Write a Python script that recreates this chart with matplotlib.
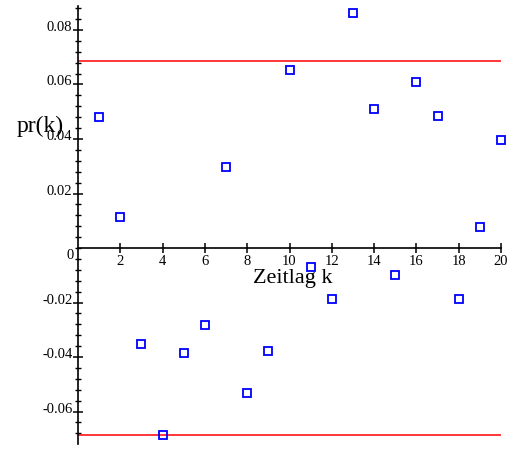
"""
Autokorrelation pr(k) der Residuen mit Konfidenzgrenzen.
"""

import numpy as np
import matplotlib
matplotlib.use('Agg')
import matplotlib.pyplot as plt
from matplotlib.ticker import MultipleLocator, FixedLocator

# Zeitlag k und geschaetzte Autokorrelation
lags = list(range(1, 21))
pr_k = [0.0481, 0.0115, -0.0353, -0.0687, -0.0384, -0.0281, 0.0297, -0.0531,
        -0.0376, 0.0653, -0.0068, -0.0186, 0.0863, 0.0509, -0.0100, 0.0609,
        0.0486, -0.0186, 0.0078, 0.0397]

# Konfidenzgrenzen
bound = 0.0685

x_ticks = [2, 4, 6, 8, 10, 12, 14, 16, 18, 20]
y_ticks = [-0.06, -0.04, -0.02, 0.02, 0.04, 0.06, 0.08]

plt.rcParams['font.family'] = ['Liberation Serif', 'DejaVu Serif']

fig = plt.figure(figsize=(5.12, 4.6), dpi=100)
ax = fig.add_axes([78 / 512, 15 / 460, 423 / 512, 438 / 460])

ax.hlines([bound, -bound], 0, 20, colors='#ff0000', linewidth=1.1, zorder=2)
ax.plot(lags, pr_k, linestyle='none', marker='s', markersize=6.2,
        markerfacecolor='none', markeredgecolor='#0000ff',
        markeredgewidth=1.3, clip_on=False, zorder=3)

ax.set_xlim(0, 20)
ax.set_ylim(-0.0719, 0.0888)

# Achsen durch den Ursprung
ax.spines['left'].set_position(('data', 0))
ax.spines['bottom'].set_position(('data', 0))
ax.spines['top'].set_visible(False)
ax.spines['right'].set_visible(False)
for s in ('left', 'bottom'):
    ax.spines[s].set_linewidth(1.2)

ax.xaxis.set_major_locator(FixedLocator(x_ticks))
ax.yaxis.set_major_locator(FixedLocator(y_ticks))
ax.yaxis.set_minor_locator(MultipleLocator(0.004))
ax.tick_params(axis='both', which='major', direction='inout', length=7,
               width=1.1, labelsize=10.5, pad=0.5)
ax.tick_params(axis='y', which='minor', direction='inout', length=5, width=1.0)
ax.set_yticklabels([f"{v:g}" for v in y_ticks])
ax.set_xticklabels([str(v) for v in x_ticks])
for lbl in ax.get_yticklabels():
    lbl.set_verticalalignment('baseline')
ax.text(-0.2, 0.0, '0', ha='right', va='top', fontsize=10.5)

ax.set_xlabel('Zeitlag k', fontsize=16, va='center')
ax.xaxis.set_label_coords(0.508, 0.380)
ax.set_ylabel('pr(k)', fontsize=17, rotation=0, ha='center', va='center')
ax.yaxis.set_label_coords(-0.09, 0.727)

fig.savefig('out.png', dpi=100)
